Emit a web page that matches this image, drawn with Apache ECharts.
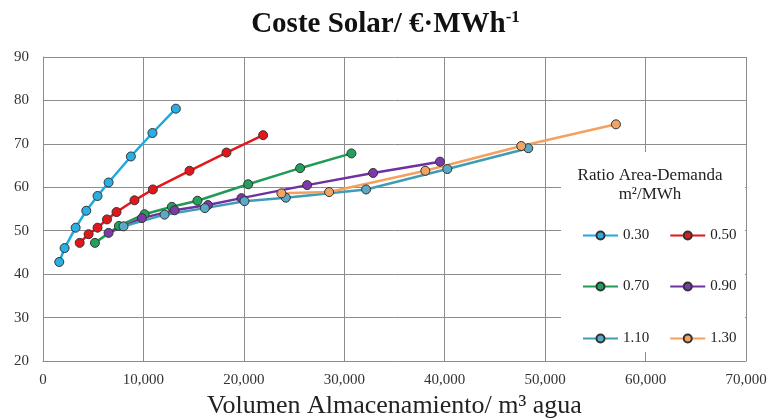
<!DOCTYPE html>
<html>
<head>
<meta charset="utf-8">
<script src="https://cdn.jsdelivr.net/npm/echarts@6/dist/echarts.min.js"></script>
<style>
  html, body { margin: 0; padding: 0; background: #fff; }
  #chart { width: 771px; height: 418px; }
</style>
</head>
<body>
<div id="chart"></div>
<script>
// ratio area-demanda (m2/MWh) -> series names
const seriesNames = ['0.30', '0.50', '0.70', '0.90', '1.10', '1.30'];
const seriesColors = ['#1FA9DE', '#E3161B', '#1F9B55', '#7030A0', '#3E9DB5', '#F5A05F'];
const markerColors = ['#2AAEE3', '#E3161B', '#22A05C', '#7A3AA8', '#5AA9C6', '#F0A468'];

// storage volume (m3 water) and solar cost (EUR/MWh) per series
const vol030 = [1620, 2150, 3250, 4310, 5430, 6530, 8750, 10900, 13230];
const cost030 = [42.8, 46.0, 50.7, 54.6, 58.0, 61.1, 67.1, 72.5, 78.1];

const vol050 = [3650, 4540, 5430, 6370, 7320, 9110, 10940, 14590, 18270, 21920];
const cost050 = [47.2, 49.2, 50.7, 52.6, 54.3, 57.0, 59.5, 63.8, 68.0, 72.0];

const vol070 = [5170, 7560, 10110, 12830, 15380, 20430, 25600, 30710];
const cost070 = [47.2, 51.1, 53.8, 55.5, 56.9, 60.7, 64.4, 67.8];

const vol090 = [6530, 9850, 13100, 16420, 19760, 26300, 32870, 39530];
const cost090 = [49.5, 52.9, 54.7, 55.9, 57.5, 60.5, 63.3, 65.9];

const vol110 = [8020, 12100, 16120, 20060, 24180, 32170, 40260, 48320];
const cost110 = [51.0, 53.7, 55.2, 56.8, 57.6, 59.5, 64.2, 69.0];

const vol130 = [23740, 28490, 38070, 47620, 57050];
const cost130 = [58.6, 58.9, 63.8, 69.5, 74.5];

const volumes = [vol030, vol050, vol070, vol090, vol110, vol130];
const costs = [cost030, cost050, cost070, cost090, cost110, cost130];

const chart = echarts.init(document.getElementById('chart'));
const serif = '"Liberation Serif", "DejaVu Serif", serif';

const series = seriesNames.map((name, i) => ({
  name: name,
  type: 'line',
  data: volumes[i].map((v, j) => [v, costs[i][j]]),
  symbol: 'circle',
  symbolSize: 9,
  lineStyle: { color: seriesColors[i], width: 2.5 },
  itemStyle: { color: markerColors[i], borderColor: '#333', borderWidth: 1 },
  emphasis: { disabled: true },
}));

const legendBase = {
  orient: 'horizontal',
  itemWidth: 35,
  itemHeight: 10,
  itemGap: 20,
  textStyle: { fontFamily: serif, fontSize: 15, color: '#222' },
};

const option = {
  animation: false,
  title: {
    text: '{m|Coste Solar/ €·MWh}{s|-1}',
    left: 'center',
    top: 4,
    textStyle: {
      rich: {
        m: { fontFamily: serif, fontWeight: 'bold', fontSize: 29, color: '#111', lineHeight: 32 },
        s: { fontFamily: serif, fontWeight: 'bold', fontSize: 17, color: '#111', verticalAlign: 'top', lineHeight: 32, padding: [0, 0, 12, 0] },
      },
    },
  },
  grid: { left: 43, right: 25, top: 57, bottom: 57, containLabel: false, outerBoundsMode: 'none' },
  xAxis: {
    type: 'value',
    min: 0,
    max: 70000,
    interval: 10000,
    name: 'Volumen Almacenamiento/ m³ agua',
    nameLocation: 'middle',
    nameGap: 31,
    nameTextStyle: { fontFamily: serif, fontSize: 26, color: '#222' },
    axisLine: { show: true, lineStyle: { color: '#8c8c8c', width: 1 } },
    axisTick: { show: false },
    axisLabel: {
      fontFamily: serif, fontSize: 15, color: '#333', margin: 12,
      formatter: (v) => v.toLocaleString('en-US'),
    },
    splitLine: { show: true, lineStyle: { color: '#8c8c8c', width: 1 } },
  },
  yAxis: {
    type: 'value',
    min: 20,
    max: 90,
    interval: 10,
    axisLine: { show: true, lineStyle: { color: '#8c8c8c', width: 1 } },
    axisTick: { show: false },
    axisLabel: { fontFamily: serif, fontSize: 15, color: '#333', margin: 14 },
    splitLine: { show: true, lineStyle: { color: '#8c8c8c', width: 1 } },
  },
  legend: [
    Object.assign({}, legendBase, { data: ['0.30', '0.50'], left: 577, top: 223 }),
    Object.assign({}, legendBase, { data: ['0.70', '0.90'], left: 577, top: 274 }),
    Object.assign({}, legendBase, { data: ['1.10', '1.30'], left: 577, top: 326 }),
  ],
  graphic: [
    {
      type: 'rect',
      left: 561,
      top: 152,
      shape: { width: 184, height: 200 },
      style: { fill: '#fff' },
      z: 1,
      silent: true,
    },
    {
      type: 'text',
      x: 650,
      y: 166,
      z: 5,
      style: {
        text: 'Ratio Area-Demanda\nm²/MWh',
        fontFamily: serif,
        fontSize: 17,
        fill: '#222',
        align: 'center',
        verticalAlign: 'top',
        lineHeight: 19,
      },
    },
  ],
  tooltip: { show: false },
  series: series,
};

chart.setOption(option);
</script>
</body>
</html>
